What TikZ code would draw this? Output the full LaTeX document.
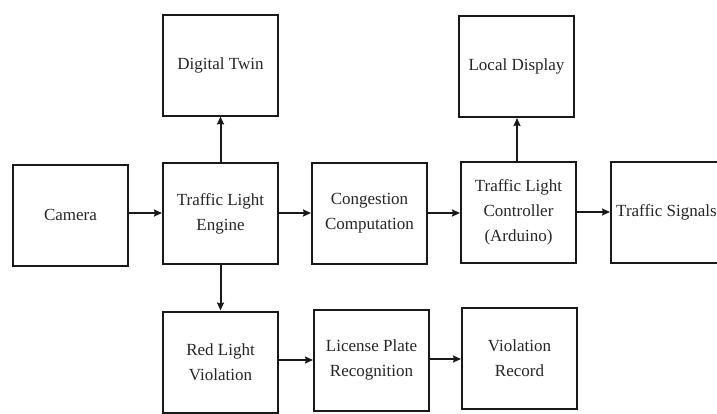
\documentclass[tikz,border=0pt]{standalone}
\usepackage{fontspec}
\setmainfont{Liberation Serif}
\usetikzlibrary{arrows.meta}
\tikzset{
  blk/.style={draw=black!90, line width=2pt, fill=white, minimum width=115pt,
    minimum height=101pt, align=center, inner sep=2pt, text=black!85,
    font=\fontsize{17pt}{25pt}\selectfont},
  lbl/.style={inner sep=0pt, text=black!85, font=\fontsize{17pt}{25pt}\selectfont},
  flow/.style={draw=black!90, line width=2pt,
    -{Stealth[length=8pt,width=7pt,inset=1pt]}}
}
\begin{document}
\begin{tikzpicture}[x=1pt,y=-1pt]
  \useasboundingbox (0,0) rectangle (717,413);
  \clip (0,0) rectangle (717,413);
  % blocks
  \node[blk] (cam)  at (70.5,215)   {Camera};
  \node[blk] (eng)  at (220.5,213.5) {Traffic Light\\Engine};
  \node[blk] (twin) at (220.5,65)   {Digital Twin};
  \node[blk] (red)  at (220.5,362)  {Red Light\\Violation};
  \node[blk] (cong) at (369.5,213.5) {Congestion\\Computation};
  \node[blk] (lpr)  at (371.5,360)  {License Plate\\Recognition};
  \node[blk] (ctl)  at (518.5,212)  {Traffic Light\\Controller\\(Arduino)};
  \node[blk] (disp) at (516.5,66.5) {Local Display};
  \node[blk] (rec)  at (519.5,358)  {Violation\\Record};
  \node[blk] (sig)  at (668.5,212)  {};
  \node[lbl, anchor=west] (sigtxt) at ([xshift=6pt]sig.west) {Traffic Signals};
  % connectors
  \draw[flow] (cam.east |- 0,213) -- (eng.west |- 0,213);
  \draw[flow] (eng.north) -- (eng.north |- twin.south);
  \draw[flow] (eng.south) -- (eng.south |- red.north);
  \draw[flow] (eng.east |- 0,213) -- (cong.west |- 0,213);
  \draw[flow] (cong.east |- 0,213) -- (ctl.west |- 0,213);
  \draw[flow] (ctl.north -| 517,0) -- (disp.south -| 517,0);
  \draw[flow] (ctl.east |- 0,212) -- (sig.west |- 0,212);
  \draw[flow] (red.east |- 0,360) -- (lpr.west |- 0,360);
  \draw[flow] (lpr.east |- 0,359) -- (rec.west |- 0,359);
\end{tikzpicture}
\end{document}
